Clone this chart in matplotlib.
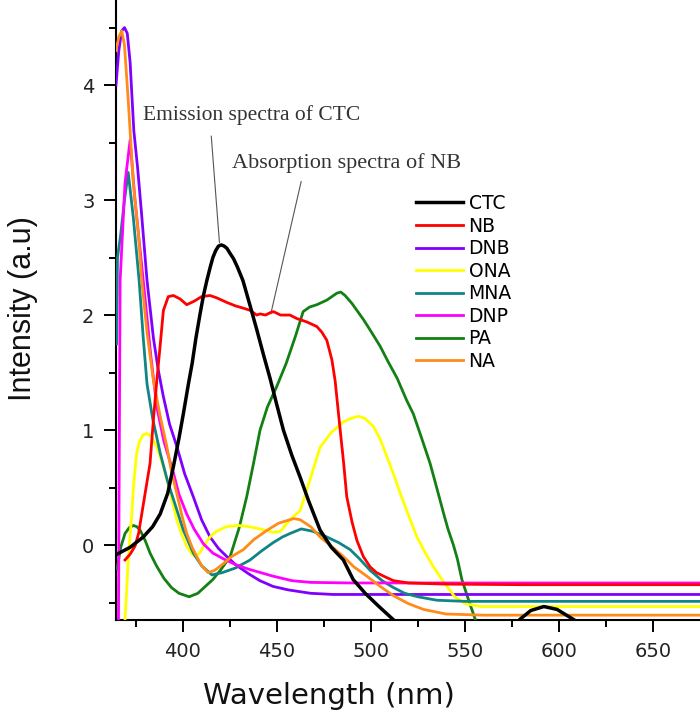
import matplotlib.pyplot as plt
import numpy as np

# spectra (wavelength nm, intensity a.u.)
ctc_wl = [365, 372, 379, 384, 388, 392, 395, 398, 400.3, 403, 405, 407, 409.2, 411, 412.8, 414.5, 416,
          417.5, 419, 420.5, 422, 423.5, 425, 427, 429, 432, 436, 439.4, 443, 446.4, 450, 453.5, 458,
          462.4, 467, 473, 479, 485.4, 490.6, 497, 504, 512, 520, 540, 570, 575, 579, 585, 592, 599,
          605, 609, 615, 680]
ctc_y = [-0.08, -0.02, 0.07, 0.16, 0.27, 0.45, 0.68, 0.93, 1.14, 1.4, 1.58, 1.8, 2.01, 2.17, 2.3, 2.41, 2.5,
         2.56, 2.6, 2.61, 2.6, 2.58, 2.54, 2.49, 2.42, 2.3, 2.07, 1.87, 1.65, 1.45, 1.22, 1.0, 0.78,
         0.59, 0.38, 0.13, -0.02, -0.13, -0.3, -0.42, -0.53, -0.65, -0.78, -1.0, -1.0, -0.8, -0.65, -0.57, -0.535, -0.56,
         -0.62, -0.66, -0.8, -0.9]

nb_wl = [369.3, 372, 374.6, 376.5, 378.2, 380.5, 382.6, 384.4, 386.2, 387.9, 389.7, 392.3, 395, 398.6,
         402.1, 406, 410, 414.5, 418, 423.4, 428, 432.2, 436, 439.3, 441.1, 444, 446.4, 448.2, 452, 457,
         460.6, 466, 471.3, 474, 476.6, 479.3, 481, 483.7, 485.5, 487.2, 490, 492.6, 496, 499.6, 503,
         506.7, 512, 520, 540, 580, 620, 675]
nb_y = [-0.13, -0.08, -0.01, 0.1, 0.27, 0.5, 0.71, 1.09, 1.43, 1.72, 2.04, 2.16, 2.17, 2.14,
        2.09, 2.12, 2.16, 2.17, 2.15, 2.11, 2.08, 2.06, 2.04, 2.0, 2.01, 2.0, 2.02, 2.03, 2.0, 2.0,
        1.97, 1.94, 1.9, 1.85, 1.78, 1.61, 1.43, 1.0, 0.72, 0.42, 0.2, 0.04, -0.1, -0.19, -0.24,
        -0.27, -0.31, -0.33, -0.34, -0.345, -0.345, -0.345]

dnb_wl = [364.5, 366, 367.5, 369, 370.5, 372, 374, 376, 378, 381, 384.4, 387, 389.7, 393, 396.8, 401,
          405.6, 410, 414.5, 419, 423.4, 428, 435, 441, 448, 456, 468, 480, 500, 675]
dnb_y = [4.0, 4.3, 4.47, 4.5, 4.45, 4.2, 3.6, 3.28, 2.9, 2.3, 1.8, 1.52, 1.29, 1.05, 0.86, 0.62,
         0.42, 0.22, 0.07, -0.03, -0.1, -0.17, -0.25, -0.31, -0.36, -0.39, -0.42, -0.43, -0.43, -0.43]

ona_wl = [368.8, 370, 371, 372.9, 374, 375.5, 377, 379, 381, 383.5, 386.5, 389.7, 393, 396.8, 400,
          402.1, 404.5, 406.5, 409, 411.5, 414.5, 418, 423.4, 429.6, 435, 441.1, 448.2, 452, 457,
          462.4, 467.7, 473, 479, 485.4, 489, 493.4, 497, 501.4, 505, 508.5, 512, 515.6, 520, 524.5,
          529, 533.3, 537.8, 544.6, 550, 558.7, 675]
ona_y = [-0.8, -0.45, -0.13, 0.27, 0.55, 0.8, 0.9, 0.96, 0.97, 0.94, 0.84, 0.68, 0.48, 0.22, 0.07,
         -0.01, -0.07, -0.1, -0.07, 0.0, 0.07, 0.12, 0.16, 0.17, 0.16, 0.14, 0.11, 0.12, 0.22,
         0.3, 0.57, 0.85, 0.98, 1.07, 1.1, 1.12, 1.1, 1.03, 0.92, 0.77, 0.62, 0.45, 0.26, 0.07,
         -0.07, -0.19, -0.3, -0.45, -0.51, -0.535, -0.535]

mna_wl = [364.8, 365.3, 367, 369, 371, 373.7, 376.8, 379, 381, 384, 388, 392, 395, 400.3, 405.6, 410,
          415.5, 421, 428, 435.8, 442, 448, 453, 457, 463, 469, 476.6, 483, 489, 494, 499.6, 506,
          512, 518, 525, 535, 550, 675]
mna_y = [1.75, 2.5, 2.7, 3.0, 3.24, 2.85, 2.3, 1.8, 1.4, 1.1, 0.8, 0.55, 0.4, 0.13, -0.07, -0.18,
         -0.26, -0.24, -0.2, -0.13, -0.05, 0.02, 0.07, 0.1, 0.14, 0.12, 0.07, 0.02, -0.04, -0.12, -0.22, -0.31,
         -0.37, -0.42, -0.45, -0.48, -0.49, -0.49]

dnp_wl = [365.8, 366.3, 366.7, 369.3, 372, 374.6, 379, 383, 386.2, 390, 395, 398, 402.1, 406, 411,
          416, 421.6, 428, 435, 447.8, 458, 468, 490, 675]
dnp_y = [-0.7, 1.0, 2.3, 3.15, 3.52, 3.0, 2.3, 1.65, 1.2, 0.9, 0.63, 0.44, 0.27, 0.14, 0.01,
         -0.07, -0.12, -0.17, -0.21, -0.27, -0.31, -0.325, -0.33, -0.33]

pa_wl = [365, 367, 369.3, 371.5, 373.7, 375.5, 377.3, 380, 382.6, 386, 390, 394, 398, 403.4, 408,
         412, 416, 420, 425.2, 430, 434, 437.5, 441.1, 445, 450, 455, 460, 464, 467.5, 471.3, 476.6,
         481.9, 484, 486.3, 490, 496.1, 500, 504.9, 509, 514, 519, 522.6, 527, 531.5, 535, 538.6,
         541, 543.9, 546, 548.4, 552, 555.6, 560]
pa_y = [-0.21, -0.02, 0.1, 0.15, 0.17, 0.16, 0.13, 0.04, -0.07, -0.18, -0.29, -0.37, -0.42, -0.45, -0.42,
        -0.36, -0.3, -0.22, -0.1, 0.15, 0.42, 0.7, 1.0, 1.2, 1.38, 1.58, 1.82, 2.03, 2.07, 2.09, 2.13,
        2.19, 2.2, 2.17, 2.1, 1.96, 1.86, 1.73, 1.6, 1.45, 1.26, 1.14, 0.93, 0.71, 0.5, 0.28,
        0.14, 0.0, -0.12, -0.3, -0.48, -0.65, -0.85]

na_wl = [364.5, 366, 367.6, 369, 371, 373.7, 376.4, 378.2, 381, 384.4, 388, 391.5, 394, 396.8, 399.5,
         402.1, 405, 407.4, 410, 413.5, 417, 421, 426, 432.2, 438, 445, 451, 457, 459, 462.4, 468, 473,
         479, 485.4, 491, 497.8, 505, 512, 520, 528, 540, 560, 675]
na_y = [4.3, 4.42, 4.47, 4.35, 3.87, 3.15, 2.71, 2.3, 1.85, 1.43, 1.12, 0.86, 0.64, 0.45, 0.26,
        0.1, -0.02, -0.1, -0.18, -0.24, -0.22, -0.17, -0.1, -0.04, 0.05, 0.13, 0.19, 0.22, 0.23, 0.22, 0.16, 0.07,
        -0.01, -0.1, -0.19, -0.27, -0.36, -0.44, -0.51, -0.56, -0.6, -0.61, -0.61]

names = ['CTC', 'NB', 'DNB', 'ONA', 'MNA', 'DNP', 'PA', 'NA']
colors = ['black', '#ff0000', '#8000ff', '#ffff00', '#108585', '#ff00ff', '#138013', '#ff8c1a']
series = [(ctc_wl, ctc_y), (nb_wl, nb_y), (dnb_wl, dnb_y), (ona_wl, ona_y),
          (mna_wl, mna_y), (dnp_wl, dnp_y), (pa_wl, pa_y), (na_wl, na_y)]
zorders = [10, 9, 4, 5, 6, 7, 3, 8]

fig = plt.figure(figsize=(7, 7.17), dpi=100)
ax = fig.add_axes([0.1657, 0.1353, 0.834, 0.8647])

for name, col, (wl, y), z in zip(names, colors, series, zorders):
    lw = 2.5 if name == 'CTC' else 2.0
    ax.plot(wl, y, color=col, lw=lw, label=name, zorder=z, solid_joinstyle='round')

ax.set_xlim(364.5, 674.9)
ax.set_ylim(-0.652, 4.74)
ax.set_xticks(np.arange(400, 651, 50))
ax.set_xticks(np.arange(375, 675, 50), minor=True)
ax.set_yticks(np.arange(0, 5, 1))
ax.set_yticks(np.arange(-0.5, 4.6, 1), minor=True)

for s in ['top', 'right']:
    ax.spines[s].set_visible(False)
for s in ['left', 'bottom']:
    ax.spines[s].set_linewidth(1.5)

ax.tick_params(which='major', direction='out', length=8.5, width=1.4, labelsize=14, pad=7)
ax.tick_params(which='minor', direction='out', length=5, width=1.4)
for lab in ax.get_xticklabels() + ax.get_yticklabels():
    lab.set_family('DejaVu Sans')
    lab.set_color('#222222')

ax.set_xlabel('Wavelength (nm)', fontsize=21, family='DejaVu Sans', color='#111111')
ax.xaxis.set_label_coords(0.365, -0.1)
ax.set_ylabel('Intensity (a.u)', fontsize=22, family='Liberation Sans', color='#111111')
ax.yaxis.set_label_coords(-0.134, 0.502)

ax.annotate('Emission spectra of CTC', xy=(419.5, 2.63), xytext=(378.9, 3.74),
            fontsize=15.5, family='Liberation Serif', color='#333333', ha='left', va='center',
            arrowprops=dict(arrowstyle='-', color='#555555', lw=0.8, shrinkA=6, shrinkB=0,
                            relpos=(0.31, 0.0)))
ax.annotate('Absorption spectra of NB', xy=(446.8, 2.01), xytext=(426.2, 3.32),
            fontsize=16, family='Liberation Serif', color='#333333', ha='left', va='center',
            arrowprops=dict(arrowstyle='-', color='#555555', lw=0.8, shrinkA=4, shrinkB=0,
                            relpos=(0.31, 0.0)))

ax.legend(loc='upper left', bbox_to_anchor=(416 / 700, 1 - 194 / 717),
          bbox_transform=fig.transFigure, frameon=False, borderpad=0, borderaxespad=0,
          handlelength=2.5, handletextpad=0.3, labelspacing=0.19,
          prop={'family': 'DejaVu Sans', 'size': 13.5})

fig.savefig('out.png', dpi=100)
